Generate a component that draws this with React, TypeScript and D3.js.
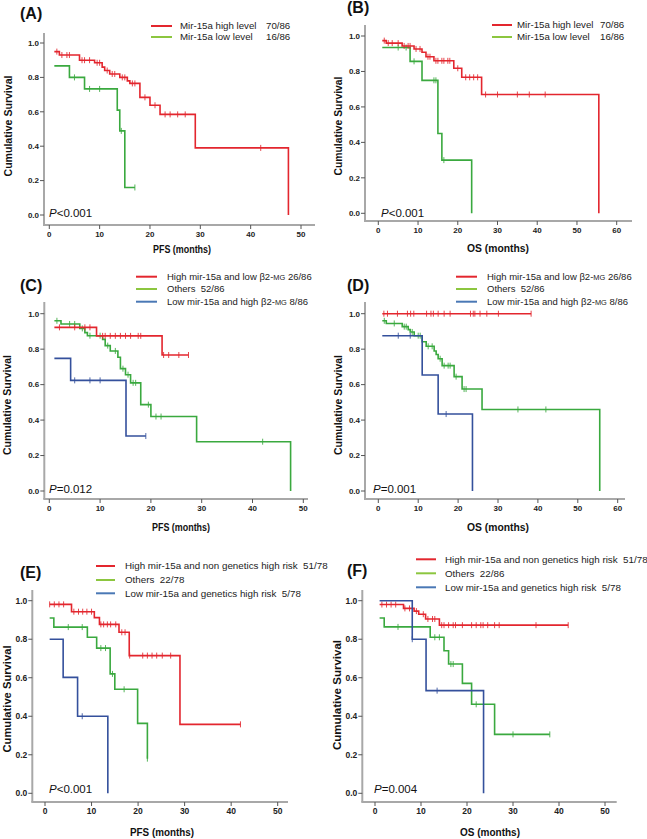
import React from 'react';
import * as d3 from 'd3';

type Step = [number, number];

// ---------- DATA ----------
// Panel A (PFS)
const A_HIGH_STEPS: Step[] = [[1, 0.95], [2, 0.93], [6, 0.90], [9, 0.885], [10.5, 0.86], [11, 0.84], [12, 0.82], [14, 0.80], [15.5, 0.78], [16, 0.765], [18, 0.684], [20, 0.638], [22, 0.585], [29, 0.39], [47.5, 0]];
const A_HIGH_END = 47.5;
const A_HIGH_CENS = [1.5, 2.5, 3.5, 4, 6.5, 7, 8, 9.5, 10, 11.5, 12.5, 13, 14.5, 15, 16.5, 17, 19, 21, 23, 24, 25.5, 27, 42];
const A_LOW_STEPS: Step[] = [[1, 0.867], [4, 0.80], [7, 0.733], [13.5, 0.61], [14, 0.489], [15, 0.16]];
const A_LOW_END = 17;
const A_LOW_CENS = [5, 8, 10, 14.3, 17];

// Panel B (OS)
const B_HIGH_STEPS: Step[] = [[1, 0.974], [2, 0.96], [6, 0.944], [9, 0.927], [11, 0.908], [12, 0.883], [14, 0.86], [19, 0.818], [21, 0.767], [26, 0.67], [55.5, 0]];
const B_HIGH_END = 55.5;
const B_HIGH_CENS = [1.5, 2.5, 3.5, 5, 6.5, 7.5, 8, 9.5, 10.5, 12.5, 13, 14.5, 15, 16, 16.5, 17.5, 18, 20, 22, 23, 24, 25, 27, 30, 35, 38, 42];
const B_LOW_STEPS: Step[] = [[1, 0.935], [8, 0.857], [11, 0.75], [15, 0.45], [16, 0.30], [23.5, 0]];
const B_LOW_END = 23.5;
const B_LOW_CENS = [5, 7, 9, 14, 14.5, 16.5];

// Panel C (PFS)
const C_RED_STEPS: Step[] = [[1, 0.923], [9.3, 0.875], [22.2, 0.767]];
const C_RED_END = 27.4;
const C_RED_CENS = [2, 5, 7, 8, 10.5, 11, 12, 13, 14, 15, 16, 17.5, 18, 22.5, 23.5, 25.5, 27.4];
const C_GREEN_STEPS: Step[] = [[1, 0.96], [2.3, 0.942], [6, 0.917], [7, 0.893], [7.5, 0.876], [10.5, 0.855], [11, 0.82], [12, 0.79], [13.5, 0.754], [14, 0.69], [15, 0.656], [16, 0.61], [18, 0.487], [20, 0.42], [29, 0.278], [47.5, 0]];
const C_GREEN_END = 47.5;
const C_GREEN_CENS = [1.5, 4, 5, 6.5, 8, 10, 11.5, 13, 14.5, 15.5, 16.5, 17, 19.5, 21, 22, 42];
const C_BLUE_STEPS: Step[] = [[1, 0.748], [4.2, 0.624], [15.1, 0.31]];
const C_BLUE_END = 19;
const C_BLUE_CENS = [5, 8, 10, 19];

// Panel D (OS)
const D_RED_STEPS: Step[] = [[1, 1.0]];
const D_RED_END = 38.3;
const D_RED_CENS = [1.4, 2.3, 4.8, 7.3, 8.1, 8.9, 12.1, 13.2, 13.8, 15, 16.5, 18, 23.1, 23.8, 24.2, 25.5, 27.2, 30.1, 38.3];
const D_GREEN_STEPS: Step[] = [[1, 0.96], [2, 0.945], [6, 0.927], [7.5, 0.91], [8, 0.897], [9, 0.876], [11, 0.842], [12, 0.816], [14, 0.79], [14.5, 0.77], [15, 0.746], [16, 0.707], [19, 0.645], [21, 0.575], [26, 0.46], [55.5, 0]];
const D_GREEN_END = 55.5;
const D_GREEN_CENS = [1.5, 4, 6.5, 7, 8.5, 10, 10.5, 12.5, 13.5, 15.5, 16.5, 17.5, 18, 19.5, 21.5, 22, 35, 42];
const D_BLUE_STEPS: Step[] = [[1, 0.876], [11, 0.654], [15, 0.434], [23.6, 0]];
const D_BLUE_END = 23.6;
const D_BLUE_CENS = [5, 8, 17];

// Panel E (PFS)
const E_RED_STEPS: Step[] = [[1, 0.981], [5.7, 0.943], [10.6, 0.912], [11.7, 0.877], [15.9, 0.836], [18.1, 0.715], [29, 0.358]];
const E_RED_END = 42;
const E_RED_CENS = [1, 2, 3, 4, 6.2, 7.2, 8.1, 9, 10, 12, 12.6, 13.4, 14.1, 15.2, 16.5, 17.2, 18.2, 21, 22, 23, 24, 25.2, 27, 42];
const E_GREEN_STEPS: Step[] = [[1, 0.91], [1.9, 0.863], [9.1, 0.81], [11.1, 0.754], [14, 0.62], [15, 0.54], [19.9, 0.363], [22, 0.18]];
const E_GREEN_END = 22;
const E_GREEN_CENS = [5, 8, 12, 13, 14.5, 17, 22];
const E_BLUE_STEPS: Step[] = [[1, 0.80], [3.9, 0.602], [7, 0.40], [13.5, 0]];
const E_BLUE_END = 13.5;
const E_BLUE_CENS = [8];

// Panel F (OS)
const F_RED_STEPS: Step[] = [[1, 0.98], [6.2, 0.96], [8.5, 0.946], [9.5, 0.93], [11, 0.905], [14, 0.873]];
const F_RED_END = 42;
const F_RED_CENS = [1.5, 2.5, 3.5, 4.5, 6.5, 7.5, 9, 10.5, 11.5, 12.5, 13, 14.5, 15, 16, 17, 17.5, 19, 21, 22, 23, 23.5, 24.5, 26, 27, 35, 42];
const F_GREEN_STEPS: Step[] = [[1, 0.91], [2, 0.864], [12, 0.81], [15, 0.74], [16, 0.671], [19, 0.571], [21, 0.462], [26, 0.306]];
const F_GREEN_END = 38;
const F_GREEN_CENS = [5, 13, 14, 16.5, 17, 22, 30, 38];
const F_BLUE_STEPS: Step[] = [[1, 1.0], [8.1, 0.80], [11.1, 0.533], [23.6, 0]];
const F_BLUE_END = 23.6;
const F_BLUE_CENS = [8.1, 13.5];

// Labels
const Y_TICKS = [0, 0.2, 0.4, 0.6, 0.8, 1.0];
const X_TICKS_50 = [0, 10, 20, 30, 40, 50];
const X_TICKS_60 = [0, 10, 20, 30, 40, 50, 60];
const LEG_AB = ['Mir-15a high level', 'Mir-15a low level'];
const LEG_AB_N = ['70/86', '16/86'];
const LEG_CD = ['High mir-15a and low β2-MG 26/86', 'Others  52/86', 'Low mir-15a and high β2-MG 8/86'];
const LEG_E = ['High mir-15a and non genetics high risk  51/78', 'Others  22/78', 'Low mir-15a and genetics high risk  5/78'];
const LEG_F = ['High mir-15a and non genetics high risk  51/78', 'Others  22/86', 'Low mir-15a and genetics high risk  5/78'];
const P_VALUES = ['<0.001', '<0.001', '=0.012', '=0.001', '<0.001', '=0.004'];

// ---------- STYLE ----------
const RED = '#e3262e';
const GREEN = '#3aa93f';
const BLUE = '#34509c';
const LEG_RED = '#e3262e';
const LEG_GREEN = '#8cc63f';
const LEG_BLUE = '#4a78b5';
const AXIS = '#a8a8a8';
const FONT = "'Liberation Sans', Arial, Helvetica, sans-serif";

interface Series { steps: Step[]; end: number; cens: number[]; color: string; }

interface Layout {
  axX: number; axY: number; axTop: number; axRight: number;
  x0: number; x1: number; y0: number; y1: number;
  titleX: number; titleY: number;
  legX1: number; legX2: number; legTX: number; legNX?: number; legY: number[]; legFont: number;
  yLabX: number; yLabY: number; yLabLen: number;
  xLabX: number; xLabY: number; xLabLen: number;
  pX: number; pY: number; tickFont: number;
}

interface PanelDef {
  title: string; series: Series[]; legend: string[]; legendN?: string[]; legendColors: string[];
  xLabel: string; p: string; xMax: number; xTicks: number[]; L: Layout;
}

const PANELS: PanelDef[] = [
  {
    title: '(A)', xLabel: 'PFS (months)', p: P_VALUES[0], xMax: 50, xTicks: X_TICKS_50,
    series: [
      { steps: A_LOW_STEPS, end: A_LOW_END, cens: A_LOW_CENS, color: GREEN },
      { steps: A_HIGH_STEPS, end: A_HIGH_END, cens: A_HIGH_CENS, color: RED },
    ],
    legend: LEG_AB, legendN: LEG_AB_N, legendColors: [LEG_RED, LEG_GREEN],
    L: { axX: 44, axY: 225, axTop: 33, axRight: 315, x0: 49.3, x1: 301, y0: 215, y1: 43,
      titleX: 20, titleY: 19, legX1: 151, legX2: 172, legTX: 180, legNX: 266, legY: [26, 37], legFont: 9.7,
      yLabX: 8, yLabY: 126, yLabLen: 101, xLabX: 182, xLabY: 253, xLabLen: 58, pX: 49, pY: 217, tickFont: 8 },
  },
  {
    title: '(B)', xLabel: 'OS (months)', p: P_VALUES[1], xMax: 60, xTicks: X_TICKS_60,
    series: [
      { steps: B_LOW_STEPS, end: B_LOW_END, cens: B_LOW_CENS, color: GREEN },
      { steps: B_HIGH_STEPS, end: B_HIGH_END, cens: B_HIGH_CENS, color: RED },
    ],
    legend: LEG_AB, legendN: LEG_AB_N, legendColors: [LEG_RED, LEG_GREEN],
    L: { axX: 365, axY: 221, axTop: 25, axRight: 632, x0: 378.3, x1: 616.7, y0: 213.3, y1: 36,
      titleX: 347, titleY: 13, legX1: 492, legX2: 512, legTX: 517, legNX: 600, legY: [25, 37], legFont: 9.7,
      yLabX: 338, yLabY: 126, yLabLen: 99, xLabX: 498, xLabY: 252, xLabLen: 62, pX: 381, pY: 217, tickFont: 8 },
  },
  {
    title: '(C)', xLabel: 'PFS (months)', p: P_VALUES[2], xMax: 50, xTicks: X_TICKS_50,
    series: [
      { steps: C_GREEN_STEPS, end: C_GREEN_END, cens: C_GREEN_CENS, color: GREEN },
      { steps: C_RED_STEPS, end: C_RED_END, cens: C_RED_CENS, color: RED },
      { steps: C_BLUE_STEPS, end: C_BLUE_END, cens: C_BLUE_CENS, color: BLUE },
    ],
    legend: LEG_CD, legendColors: [LEG_RED, LEG_GREEN, LEG_BLUE],
    L: { axX: 44.3, axY: 499, axTop: 302, axRight: 308, x0: 49.3, x1: 303.3, y0: 491, y1: 313.7,
      titleX: 20, titleY: 291, legX1: 136, legX2: 157, legTX: 167, legY: [276.7, 289, 301.7], legFont: 9.5,
      yLabX: 7, yLabY: 405, yLabLen: 100, xLabX: 181, xLabY: 531, xLabLen: 58, pX: 49, pY: 493, tickFont: 8 },
  },
  {
    title: '(D)', xLabel: 'OS (months)', p: P_VALUES[3], xMax: 60, xTicks: X_TICKS_60,
    series: [
      { steps: D_GREEN_STEPS, end: D_GREEN_END, cens: D_GREEN_CENS, color: GREEN },
      { steps: D_RED_STEPS, end: D_RED_END, cens: D_RED_CENS, color: RED },
      { steps: D_BLUE_STEPS, end: D_BLUE_END, cens: D_BLUE_CENS, color: BLUE },
    ],
    legend: LEG_CD, legendColors: [LEG_RED, LEG_GREEN, LEG_BLUE],
    L: { axX: 365, axY: 499, axTop: 302, axRight: 625, x0: 378.3, x1: 617.7, y0: 491, y1: 313.7,
      titleX: 347, titleY: 291, legX1: 456, legX2: 477, legTX: 487, legY: [276.7, 289, 301.7], legFont: 9.5,
      yLabX: 338, yLabY: 405, yLabLen: 100, xLabX: 498, xLabY: 531, xLabLen: 62, pX: 373, pY: 493, tickFont: 8 },
  },
  {
    title: '(E)', xLabel: 'PFS (months)', p: P_VALUES[4], xMax: 50, xTicks: X_TICKS_50,
    series: [
      { steps: E_GREEN_STEPS, end: E_GREEN_END, cens: E_GREEN_CENS, color: GREEN },
      { steps: E_RED_STEPS, end: E_RED_END, cens: E_RED_CENS, color: RED },
      { steps: E_BLUE_STEPS, end: E_BLUE_END, cens: E_BLUE_CENS, color: BLUE },
    ],
    legend: LEG_E, legendColors: [LEG_RED, LEG_GREEN, LEG_BLUE],
    L: { axX: 32.3, axY: 802, axTop: 590, axRight: 288, x0: 45, x1: 277.7, y0: 793.3, y1: 600.7,
      titleX: 20, titleY: 577.5, legX1: 96, legX2: 115, legTX: 125, legY: [566, 580, 593.3], legFont: 9.8,
      yLabX: 7, yLabY: 699, yLabLen: 107, xLabX: 162, xLabY: 836, xLabLen: 64, pX: 49, pY: 793, tickFont: 8.5 },
  },
  {
    title: '(F)', xLabel: 'OS (months)', p: P_VALUES[5], xMax: 50, xTicks: X_TICKS_50,
    series: [
      { steps: F_GREEN_STEPS, end: F_GREEN_END, cens: F_GREEN_CENS, color: GREEN },
      { steps: F_RED_STEPS, end: F_RED_END, cens: F_RED_CENS, color: RED },
      { steps: F_BLUE_STEPS, end: F_BLUE_END, cens: F_BLUE_CENS, color: BLUE },
    ],
    legend: LEG_F, legendColors: [LEG_RED, LEG_GREEN, LEG_BLUE],
    L: { axX: 362.3, axY: 802, axTop: 590, axRight: 616.7, x0: 375, x1: 605, y0: 793.3, y1: 600.7,
      titleX: 347, titleY: 575.5, legX1: 416, legX2: 436, legTX: 445, legY: [559.3, 573.3, 587.3], legFont: 9.8,
      yLabX: 337, yLabY: 695, yLabLen: 110, xLabX: 490, xLabY: 836, xLabLen: 60, pX: 374, pY: 793, tickFont: 8.5 },
  },
];

function survAt(steps: Step[], t: number): number {
  let s = steps[0][1];
  for (const [ti, si] of steps) { if (ti <= t + 1e-9) s = si; }
  return s;
}

function LegendText({ text, x, y, size }: { text: string; x: number; y: number; size: number }) {
  if (text.includes('MG')) {
    const [a, b] = text.split('MG');
    return (
      <text x={x} y={y} fontSize={size} fontFamily={FONT} fill="#222">
        {a}<tspan fontSize={size * 0.78}>MG</tspan>{b}
      </text>
    );
  }
  return <text x={x} y={y} fontSize={size} fontFamily={FONT} fill="#222" style={{ whiteSpace: 'pre' }}>{text}</text>;
}

function Panel({ def }: { def: PanelDef }) {
  const L = def.L;
  const x = d3.scaleLinear().domain([0, def.xMax]).range([L.x0, L.x1]);
  const y = d3.scaleLinear().domain([0, 1]).range([L.y0, L.y1]);
  const line = d3.line<Step>().x(d => x(d[0])).y(d => y(d[1])).curve(d3.curveStepAfter);
  const fmt = d3.format('.1f');
  return (
    <g>
      <text x={L.titleX} y={L.titleY} fontSize={16} fontWeight="bold" fontFamily={FONT} fill="#111">{def.title}</text>
      {/* legend */}
      {def.legend.map((t, i) => (
        <g key={i}>
          <line x1={L.legX1} x2={L.legX2} y1={L.legY[i]} y2={L.legY[i]} stroke={def.legendColors[i]} strokeWidth={2} />
          <LegendText text={t} x={L.legTX} y={L.legY[i] + 3.4} size={L.legFont} />
          {def.legendN && L.legNX !== undefined && (
            <text x={L.legNX} y={L.legY[i] + 3.4} fontSize={L.legFont} fontFamily={FONT} fill="#222">{def.legendN[i]}</text>
          )}
        </g>
      ))}
      {/* axes */}
      <line x1={L.axX} x2={L.axX} y1={L.axTop} y2={L.axY} stroke={AXIS} strokeWidth={2} />
      <line x1={L.axX - 1} x2={L.axRight} y1={L.axY} y2={L.axY} stroke={AXIS} strokeWidth={2} />
      {Y_TICKS.map(v => (
        <g key={'y' + v}>
          <line x1={L.axX - 4} x2={L.axX} y1={y(v)} y2={y(v)} stroke="#555" strokeWidth={1} />
          <text x={L.axX - 5} y={y(v) + 2.8} textAnchor="end" fontSize={L.tickFont} fontWeight="bold" fontFamily={FONT} fill="#222">{fmt(v)}</text>
        </g>
      ))}
      {def.xTicks.map(v => (
        <g key={'x' + v}>
          <line x1={x(v)} x2={x(v)} y1={L.axY} y2={L.axY + 4} stroke="#555" strokeWidth={1} />
          <text x={x(v)} y={L.axY + 12} textAnchor="middle" fontSize={L.tickFont} fontWeight="bold" fontFamily={FONT} fill="#222">{v}</text>
        </g>
      ))}
      <text transform={`translate(${L.yLabX + 4},${L.yLabY}) rotate(-90)`} textAnchor="middle" fontSize={11.5} fontWeight="bold"
        fontFamily={FONT} fill="#111" textLength={L.yLabLen} lengthAdjust="spacingAndGlyphs">Cumulative Survival</text>
      <text x={L.xLabX} y={L.xLabY} textAnchor="middle" fontSize={11} fontWeight="bold" fontFamily={FONT} fill="#111"
        textLength={L.xLabLen} lengthAdjust="spacingAndGlyphs">{def.xLabel}</text>
      <text x={L.pX} y={L.pY} fontSize={11.5} fontFamily={FONT} fill="#111">
        <tspan fontStyle="italic">P</tspan>{def.p}
      </text>
      {/* curves */}
      {def.series.map((s, i) => {
        const last = s.steps[s.steps.length - 1];
        const pts: Step[] = s.end > last[0] ? [...s.steps, [s.end, last[1]]] : s.steps;
        return (
          <g key={i}>
            <path d={line(pts) || ''} fill="none" stroke={s.color} strokeWidth={1.6} />
            {s.cens.map((c, j) => {
              const cx = x(c), cy = y(survAt(s.steps, c));
              return <line key={j} x1={cx} x2={cx} y1={cy - 3} y2={cy + 3} stroke={s.color} strokeWidth={1} opacity={0.85} />;
            })}
          </g>
        );
      })}
    </g>
  );
}

export default function App() {
  return (
    <svg width={647} height={839} viewBox="0 0 647 839"
      style={{ position: 'absolute', left: 0, top: 0, background: '#fff', display: 'block' }}>
      <rect width={647} height={839} fill="#fff" />
      {PANELS.map((p, i) => <Panel key={i} def={p} />)}
    </svg>
  );
}
